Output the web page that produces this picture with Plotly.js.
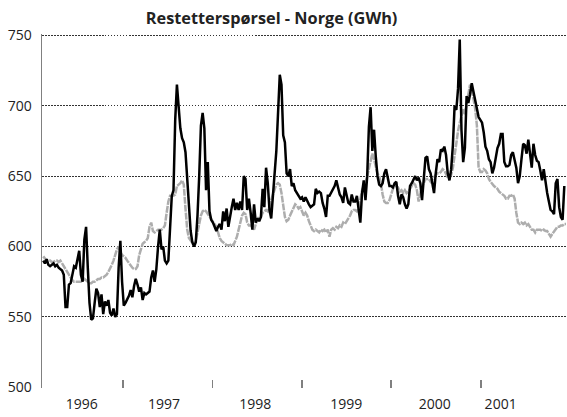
<!DOCTYPE html>
<html>
<head>
<meta charset="utf-8">
<script src="https://cdn.plot.ly/plotly-3.0.1.min.js"></script>
<style>html,body{margin:0;padding:0;background:#fff;}#chart{width:567px;height:417px;}</style>
</head>
<body>
<div id="chart"></div>
<script>
// Weekly series, first week starting 1996-02-10
const firstWeek = '1996-02-10';

const restetterspoersel = [
590,588,591,587,586,587,588,586,587,585,
584,583,580,557,557,573,574,580,586,585,
590,597,580,575,605,614,585,560,548,549,
560,570,567,557,566,552,561,558,562,553,
551,556,550,552,585,604,575,558,560,562,
565,569,564,572,577,573,568,571,562,567,
566,567,568,578,583,575,584,600,612,598,
600,590,588,590,618,636,640,690,715,702,
684,677,674,667,650,626,611,603,600,603,
622,650,686,695,684,640,660,625,619,617,
614,611,614,616,612,625,618,627,614,622,
628,634,626,631,626,632,626,650,648,626,
634,624,612,630,617,620,618,621,641,628,
656,645,626,620,637,652,668,695,722,715,
679,674,652,650,655,643,645,640,638,636,
634,635,632,635,632,630,628,629,630,641,
638,639,638,631,627,621,636,636,638,640,
643,647,641,637,635,631,642,637,631,630,
637,632,632,636,626,617,638,647,633,650,
685,699,668,683,664,650,644,643,645,652,
655,648,643,643,642,645,646,636,630,637,
635,630,627,630,643,645,648,650,647,649,
645,633,648,663,664,655,652,645,638,652,
662,660,669,668,671,665,652,647,655,672,
700,697,712,747,683,660,670,707,702,708,
716,710,704,700,692,690,688,681,671,668,
662,660,652,656,662,670,673,680,680,660,
657,657,658,665,667,660,656,645,650,662,
673,672,666,676,667,656,673,665,661,660,
654,647,655,645,638,632,626,625,623,645,
648,628,621,619,643
];

const graaSerie = [
593,591,590,590,590,589,589,590,590,589,
590,588,586,584,582,580,578,576,575,575,
575,575,575,576,577,576,575,574,574,575,
575,576,577,577,578,578,579,580,582,584,
587,590,594,598,600,596,594,593,592,590,
588,586,585,584,584,586,594,598,602,603,
604,606,614,617,611,610,611,612,612,612,
613,615,624,632,636,636,636,637,643,644,
645,647,644,627,612,606,604,602,601,604,
611,618,622,625,626,625,623,621,619,617,
616,614,610,606,604,603,602,601,601,601,
602,601,604,607,612,617,622,624,623,617,
615,615,614,612,616,620,621,621,624,625,
626,625,630,633,637,640,644,645,644,638,
628,621,618,619,622,625,628,630,629,627,
628,625,622,624,622,618,615,612,611,612,
611,610,612,611,612,610,612,607,612,613,
612,614,613,615,614,617,616,618,619,622,
625,626,626,625,627,633,640,643,645,650,
656,661,666,662,656,652,650,645,637,632,
631,631,633,638,641,643,643,642,639,640,
638,640,638,639,641,643,645,644,640,632,
638,643,645,648,648,648,646,648,649,651,
652,652,653,655,654,651,649,649,651,656,
665,674,682,688,694,698,694,702,709,715,
712,704,698,686,656,653,653,655,654,652,
648,646,644,643,642,641,639,638,637,636,
634,634,636,636,637,634,624,617,616,617,
616,617,615,616,614,612,612,610,612,612,
612,611,612,611,611,609,607,609,611,612,
614,614,615,615,616,616
];

const yearLabels = ['1996','1997','1998','1999','2000','2001'];
const yearStarts = ['1997-01-01','1998-01-01','1999-01-01','2000-01-01','2001-01-01'];
const titleText = 'Restetterspørsel - Norge (GWh)';

// weekly dates
const DAY = 86400000;
const t0 = Date.parse(firstWeek + 'T00:00:00Z');
function weekDate(i){ return new Date(t0 + i*7*DAY).toISOString().slice(0,10); }
const datesBlack = restetterspoersel.map((_, i) => weekDate(i));
const datesGray = graaSerie.map((_, i) => weekDate(i));

// label positions (layout)
const labelPos = ['1996-07-16','1997-06-17','1998-06-25','1999-07-02','2000-06-27','2001-03-23'];

const traces = [
  {x: datesGray, y: graaSerie, type: 'scatter', mode: 'lines',
   line: {color: '#adadad', width: 2.5, dash: '7px,1px'}, hoverinfo: 'skip'},
  {x: datesBlack, y: restetterspoersel, type: 'scatter', mode: 'lines',
   line: {color: '#000000', width: 2.5}, hoverinfo: 'skip'}
];

const layout = {
  width: 567, height: 417,
  margin: {l: 42, r: 0, t: 34, b: 29, pad: 0},
  paper_bgcolor: '#ffffff', plot_bgcolor: '#ffffff',
  showlegend: false,
  font: {family: '"Open Sans", sans-serif', size: 14, color: '#222222'},
  title: {text: titleText, font: {family: '"Open Sans", sans-serif', size: 16.3, color: '#222222', weight: 700},
          x: 0.479, xref: 'container', xanchor: 'center', y: 0.955, yref: 'container', yanchor: 'middle'},
  xaxis: {
    type: 'date',
    range: [weekDate(-0.6), weekDate(305.6)],
    tickmode: 'array', tickvals: labelPos, ticktext: yearLabels,
    ticks: '', showgrid: false, showline: false, zeroline: false,
    ticklabelstandoff: 6,
    tickfont: {size: 14, color: '#222222'},
    minor: {tickmode: 'array', tickvals: yearStarts, ticks: 'inside', ticklen: 8,
            tickcolor: '#808080', tickwidth: 1.5, showgrid: false}
  },
  yaxis: {
    range: [499.5, 751], tickmode: 'linear', tick0: 500, dtick: 50,
    showgrid: true, gridcolor: '#333333', gridwidth: 1, griddash: '1.5px,1.5px',
    showline: true, linecolor: '#808080', linewidth: 1.5,
    ticks: '', zeroline: false, ticklabelstandoff: 6,
    tickfont: {size: 14, color: '#222222'}
  }
};

Plotly.newPlot('chart', traces, layout, {staticPlot: true, displayModeBar: false});
</script>
</body>
</html>
